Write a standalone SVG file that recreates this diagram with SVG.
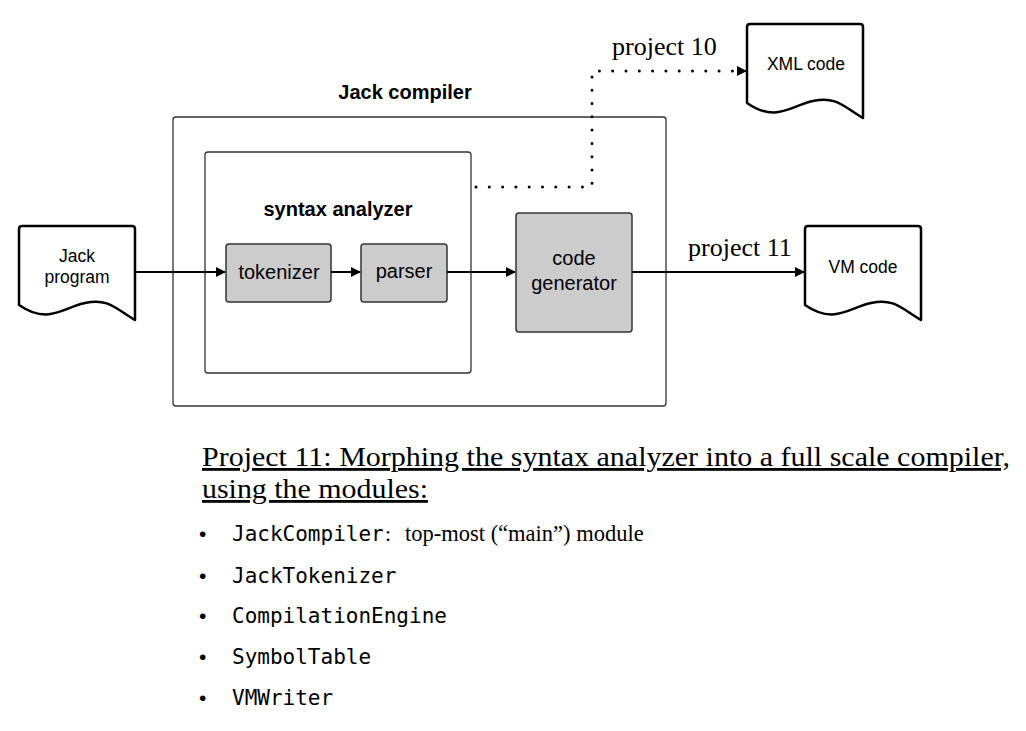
<svg xmlns="http://www.w3.org/2000/svg" width="1026" height="731" viewBox="0 0 1026 731">
<style>
.sans{font-family:"Liberation Sans",Arial,sans-serif;fill:#000}
.serif{font-family:"Liberation Serif","Times New Roman",serif;fill:#000}
.mono{font-family:"DejaVu Sans Mono","Liberation Mono",monospace;fill:#000}
.doc{fill:#fff;stroke:#000;stroke-width:2.5;stroke-linejoin:round}
.box{fill:#fff;stroke:#333;stroke-width:1.3}
.proc{fill:#cccccc;stroke:#333;stroke-width:1.5}
.conn{fill:none;stroke:#000;stroke-width:2}
</style>
<defs>
<marker id="arr" markerWidth="10" markerHeight="10" refX="9" refY="5" orient="auto" markerUnits="userSpaceOnUse">
<path d="M0,0 L10,5 L0,10 Z" fill="#000"/>
</marker>
</defs>
<rect width="1026" height="731" fill="#fff"/>

<g id="jack-compiler">
<rect class="box" x="173" y="117" width="493" height="289" rx="3"/>
<text class="sans" x="405" y="99" font-size="20" font-weight="bold" text-anchor="middle">Jack compiler</text>
</g>
<g id="syntax-analyzer">
<rect class="box" x="205" y="152" width="266" height="221" rx="3"/>
<text class="sans" x="338" y="216" font-size="20" font-weight="bold" text-anchor="middle">syntax analyzer</text>
</g>
<g id="tokenizer">
<rect class="proc" x="226" y="244" width="105" height="58" rx="3"/>
<text class="sans" x="279" y="279" font-size="20" text-anchor="middle">tokenizer</text>
</g>
<g id="parser">
<rect class="proc" x="361" y="244" width="86" height="58" rx="3"/>
<text class="sans" x="404" y="278" font-size="20" text-anchor="middle">parser</text>
</g>
<g id="code-generator">
<rect class="proc" x="516" y="213" width="116" height="119" rx="3"/>
<text class="sans" x="574" y="265" font-size="20" text-anchor="middle">code</text>
<text class="sans" x="574" y="290" font-size="20" text-anchor="middle">generator</text>
</g>
<g id="jack-program">
<path class="doc" d="M19,229 Q19,226 22,226 L132,226 Q135,226 135,229 L135,320 C115,308 108,298 85,303 C62,308 48,325 19,305 Z"/>
<text class="sans" x="77" y="262" font-size="17.5" text-anchor="middle">Jack</text>
<text class="sans" x="77" y="283" font-size="17.5" text-anchor="middle">program</text>
</g>
<g id="vm-code">
<path class="doc" d="M805,229 Q805,226 808,226 L918,226 Q921,226 921,229 L921,320 C901,308 894,298 871,303 C848,308 834,325 805,305 Z"/>
<text class="sans" x="863" y="273" font-size="17.5" text-anchor="middle">VM code</text>
</g>
<g id="xml-code">
<path class="doc" d="M747,27 Q747,24 750,24 L860,24 Q863,24 863,27 L863,118 C843,106 836,96 813,101 C790,106 776,123 747,103 Z"/>
<text class="sans" x="806" y="70" font-size="17.5" text-anchor="middle">XML code</text>
</g>

<g id="connectors">
<line class="conn" x1="135" y1="272" x2="225" y2="272" marker-end="url(#arr)"/>
<line class="conn" x1="331" y1="272" x2="360" y2="272" marker-end="url(#arr)"/>
<line class="conn" x1="447" y1="272" x2="515" y2="272" marker-end="url(#arr)"/>
<line class="conn" x1="632" y1="272" x2="804" y2="272" marker-end="url(#arr)"/>
<path d="M476,187 L592,187 L592,71 L738,71" fill="none" stroke="#000" stroke-width="3" stroke-linecap="round" stroke-dasharray="0 13.3"/>
<line x1="738" y1="71" x2="746" y2="71" stroke="#000" stroke-width="2" marker-end="url(#arr)"/>
<text class="serif" x="612" y="55" font-size="26">project 10</text>
<text class="serif" x="688" y="256" font-size="26">project 11</text>
</g>

<g id="notes">
<text class="serif" x="202" y="466" font-size="28" text-decoration="underline" textLength="808" lengthAdjust="spacingAndGlyphs">Project 11: Morphing the syntax analyzer into a full scale compiler,</text>
<text class="serif" x="202" y="498" font-size="28" text-decoration="underline" textLength="226" lengthAdjust="spacingAndGlyphs">using the modules:</text>
<text class="sans" x="199" y="541" font-size="21">•</text>
<text class="mono" x="232" y="541" font-size="21">JackCompiler</text>
<text class="serif" x="385" y="541" font-size="22">:</text>
<text class="serif" x="405" y="541" font-size="22.5">top-most (“main”) module</text>
<text class="sans" x="199" y="583" font-size="21">•</text>
<text class="mono" x="232" y="583" font-size="21">JackTokenizer</text>
<text class="sans" x="199" y="623" font-size="21">•</text>
<text class="mono" x="232" y="623" font-size="21">CompilationEngine</text>
<text class="sans" x="199" y="664" font-size="21">•</text>
<text class="mono" x="232" y="664" font-size="21">SymbolTable</text>
<text class="sans" x="199" y="705" font-size="21">•</text>
<text class="mono" x="232" y="705" font-size="21">VMWriter</text>
</g>
</svg>
